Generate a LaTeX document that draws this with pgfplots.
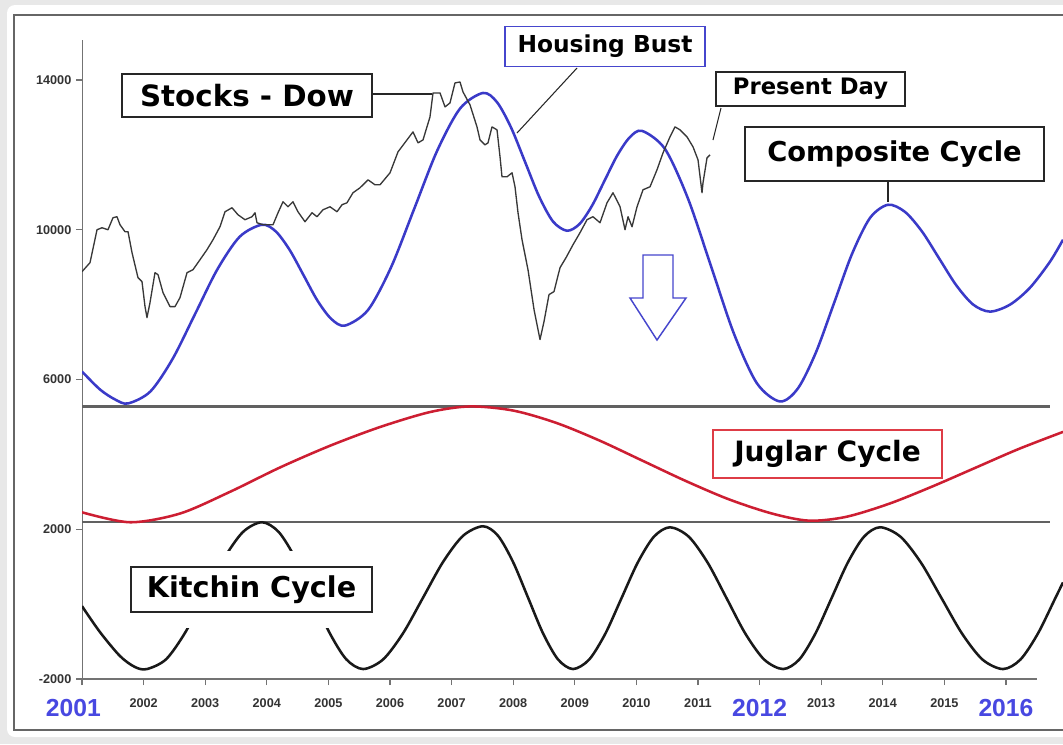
\documentclass[border=0pt]{standalone}
\usepackage{pgfplots}
\pgfplotsset{compat=1.18}
\usepackage{pgfplotstable}
\usepackage{fontspec}
\setmainfont{DejaVu Sans}
\newfontfamily\arial{Liberation Sans}

\definecolor{cycblue}{RGB}{58,58,200}
\definecolor{cycred}{RGB}{205,30,50}
\definecolor{yrblue}{RGB}{72,72,225}
\definecolor{boxblue}{RGB}{70,70,205}
\definecolor{boxred}{RGB}{222,60,70}

\newcommand{\bigyr}[1]{{\arial\bfseries\fontsize{18.5}{20}\selectfont\color{yrblue}#1}}

% Dow Jones (approx.)
\pgfplotstableread{
x y
2001.000 8880
2001.130 9120
2001.244 10000
2001.325 10053
2001.422 10000
2001.503 10320
2001.568 10347
2001.617 10133
2001.698 9947
2001.747 9947
2001.812 9387
2001.909 8720
2001.974 8613
2002.023 7947
2002.055 7653
2002.104 8053
2002.185 8853
2002.234 8800
2002.315 8320
2002.429 7947
2002.510 7947
2002.591 8187
2002.705 8853
2002.802 8933
2002.916 9200
2003.029 9467
2003.127 9733
2003.240 10080
2003.321 10480
2003.435 10587
2003.532 10400
2003.646 10267
2003.760 10347
2003.808 10453
2003.841 10187
2003.938 10133
2004.101 10133
2004.182 10453
2004.263 10747
2004.344 10613
2004.425 10747
2004.506 10480
2004.620 10213
2004.734 10453
2004.815 10347
2004.912 10533
2005.026 10613
2005.140 10480
2005.221 10667
2005.302 10720
2005.399 10987
2005.513 11120
2005.643 11333
2005.756 11200
2005.838 11200
2006.000 11520
2006.130 12080
2006.276 12400
2006.373 12613
2006.455 12320
2006.536 12400
2006.649 13013
2006.698 13653
2006.812 13653
2006.893 13280
2006.974 13387
2007.055 13920
2007.136 13947
2007.185 13680
2007.299 13333
2007.412 12747
2007.461 12400
2007.542 12267
2007.591 12320
2007.656 12747
2007.737 12667
2007.786 11947
2007.818 11413
2007.899 11413
2007.981 11520
2008.029 11147
2008.078 10453
2008.143 9733
2008.240 8933
2008.338 7867
2008.435 7067
2008.500 7547
2008.581 8267
2008.662 8347
2008.760 8987
2008.857 9253
2008.971 9600
2009.084 9920
2009.198 10267
2009.295 10347
2009.409 10187
2009.523 10720
2009.620 10987
2009.734 10613
2009.815 10000
2009.864 10347
2009.929 10080
2010.010 10613
2010.107 11067
2010.221 11147
2010.334 11600
2010.432 12053
2010.545 12480
2010.627 12747
2010.708 12667
2010.821 12480
2010.919 12213
2011.000 11867
2011.065 10987
2011.081 11253
2011.146 11920
2011.195 12000
}\dow

% Composite cycle
\pgfplotstableread{
x y
2001.000 6213
2001.292 5733
2001.536 5467
2001.747 5360
2002.110 5680
2002.472 6553
2002.835 7747
2003.197 8940
2003.560 9813
2003.922 10133
2004.147 9953
2004.371 9460
2004.596 8787
2004.820 8113
2005.045 7620
2005.269 7440
2005.643 7856
2006.016 8993
2006.390 10547
2006.763 12100
2007.137 13237
2007.510 13653
2007.737 13406
2007.964 12733
2008.192 11813
2008.419 10893
2008.646 10220
2008.873 9973
2009.076 10152
2009.279 10640
2009.482 11307
2009.685 11973
2009.888 12461
2010.091 12640
2010.464 12156
2010.837 10833
2011.211 9027
2011.584 7220
2011.957 5897
2012.331 5413
2012.623 5765
2012.915 6727
2013.208 8040
2013.500 9354
2013.792 10315
2014.084 10667
2014.360 10476
2014.636 9953
2014.912 9240
2015.188 8526
2015.464 8004
2015.740 7813
2016.065 8000
2016.390 8453
2016.714 9147
2016.925 9733
}\composite

% Juglar cycle
\pgfplotstableread{
x y
2001.000 2453
2001.779 2187
2002.591 2420
2003.403 3000
2004.214 3650
2005.026 4230
2005.838 4730
2006.649 5130
2007.300 5280
2008.000 5170
2008.700 4840
2009.400 4370
2010.100 3830
2010.800 3290
2011.500 2800
2012.200 2420
2012.800 2230
2013.400 2330
2014.100 2680
2014.800 3140
2015.500 3640
2016.200 4140
2016.925 4600
}\juglar

% Kitchin cycle
\pgfplotstableread{
x y
2001.000 -54
2001.292 -747
2001.617 -1387
2001.860 -1680
2002.055 -1734
2002.366 -1471
2002.677 -754
2002.989 226
2003.300 1207
2003.611 1924
2003.922 2187
2004.195 1924
2004.469 1207
2004.742 226
2005.015 -754
2005.289 -1471
2005.562 -1734
2005.887 -1478
2006.211 -780
2006.536 173
2006.861 1127
2007.185 1825
2007.510 2080
2007.754 1825
2007.997 1127
2008.241 173
2008.484 -780
2008.728 -1478
2008.971 -1734
2009.233 -1480
2009.496 -787
2009.758 160
2010.020 1106
2010.283 1799
2010.545 2053
2010.851 1799
2011.157 1106
2011.463 160
2011.768 -787
2012.074 -1480
2012.380 -1734
2012.643 -1480
2012.905 -787
2013.168 160
2013.430 1106
2013.693 1799
2013.955 2053
2014.288 1799
2014.620 1106
2014.953 160
2015.286 -787
2015.618 -1480
2015.951 -1734
2016.234 -1480
2016.517 -787
2016.800 160
2016.925 580
}\kitchin

\begin{document}
\begin{tikzpicture}
\useasboundingbox (0,0) rectangle (797.25pt,-558pt);
\clip (0,0) rectangle (797.25pt,-558pt);
\fill[black!9] (0,0) rectangle (797.25pt,-558pt);
\begin{scope}[x=0.75pt,y=-0.75pt]
\fill[white,rounded corners=6pt] (7,5) rectangle (1080,737);
\draw[black!60,line width=1.2pt] (14,15) rectangle (1090,730);
\end{scope}

\begin{axis}[
  at={(61.5pt,-509.25pt)}, anchor=south west,
  scale only axis, width=735.75pt, height=479.25pt,
  xmin=2001, xmax=2016.925, ymin=-2000, ymax=15067,
  axis line style={draw=none},
  clip=true,
  scaled y ticks=false,
  scaled x ticks=false,
  tick pos=left,
  tick align=outside,
  major tick length=4.5pt,
  tick style={color=black!55, line width=0.9pt},
  xtick={2001,2002,...,2016},
  xticklabels={{\hspace*{-13pt}\bigyr{2001}},2002,2003,2004,2005,2006,2007,2008,2009,2010,2011,{\bigyr{2012}},2013,2014,2015,{\bigyr{2016}}},
  ytick={-2000,2000,6000,10000,14000},
  yticklabels={-2000,2000,6000,10000,14000},
  ticklabel style={font=\arial\bfseries\fontsize{9.5}{11}\selectfont, text=black!80},
  xticklabel style={anchor=north, yshift=-7pt},
]
% axis lines and separators
\draw[black!55, line width=1.4pt] (axis cs:2001,15067) -- (axis cs:2001,-2000) -- (axis cs:2016.503,-2000);
\draw[black!62, line width=1.6pt] (axis cs:2001,5280) -- (axis cs:2016.714,5280);
\draw[black!62, line width=1.6pt] (axis cs:2001,2187) -- (axis cs:2016.714,2187);

\addplot[cycred, line width=1.9pt, smooth] table[x=x,y=y] {\juglar};
\addplot[black!90, line width=1.9pt, smooth] table[x=x,y=y] {\kitchin};
\addplot[cycblue, line width=1.9pt, smooth] table[x=x,y=y] {\composite};
\addplot[black!78, line width=1.0pt, line join=round] table[x=x,y=y] {\dow};
\end{axis}

\begin{scope}[x=0.75pt,y=-0.75pt, every node/.style={fill=white, line width=1.1pt, inner sep=0pt, align=center, font=\bfseries}]
% leader lines
\draw[black!85, line width=0.8pt] (372,94) -- (432,94);
\draw[black!85, line width=0.8pt] (577,68) -- (517,133);
\draw[black!85, line width=0.8pt] (721,108) -- (713,140);
\draw[black!85, line width=0.8pt] (888,181) -- (888,202);
% arrow
\draw[boxblue, line width=1.1pt, fill=white] (643,255) -- (673,255) -- (673,298) -- (686,298) -- (657,340) -- (630,298) -- (643,298) -- cycle;
% labels
\node[draw=black!85, minimum width=187.5pt, minimum height=32.25pt] at (247,95.5) {\fontsize{22}{24}\selectfont Stocks - Dow};
\node[draw=boxblue, minimum width=150pt, minimum height=30pt] at (605,46.5) {\fontsize{17.5}{19}\selectfont Housing Bust};
\node[draw=black!85, minimum width=141.75pt, minimum height=25.5pt] at (810.5,89) {\fontsize{17}{19}\selectfont Present Day};
\node[draw=black!85, minimum width=224.25pt, minimum height=40.5pt] at (894.5,154) {\fontsize{20.5}{22}\selectfont Composite Cycle};
\node[draw=boxred, minimum width=171.75pt, minimum height=36pt] at (827.5,454) {\fontsize{21}{23}\selectfont Juglar Cycle};
\fill[white] (120,551) rectangle (385,628);
\node[draw=black!85, minimum width=180.75pt, minimum height=33.75pt] at (251.5,589.5) {\fontsize{21.5}{23}\selectfont Kitchin Cycle};
\end{scope}
\end{tikzpicture}
\end{document}
